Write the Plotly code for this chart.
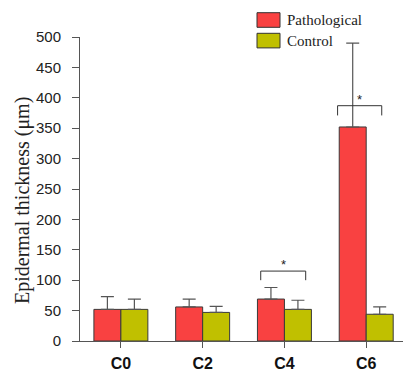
import plotly.graph_objects as go

categories = ["C0", "C2", "C4", "C6"]
pathological = [52, 56, 69, 352]
pathological_err = [21, 13, 19, 138]
control = [52, 47, 52, 44]
control_err = [17, 10, 15, 12]
y_ticks = [0, 50, 100, 150, 200, 250, 300, 350, 400, 450, 500]

# significance brackets: (category index, left offset, right offset, top value, leg bottom value)
sig_brackets = [(2, -0.29, 0.26, 115, 100), (3, -0.35, 0.19, 387, 371)]

RED = "#F94141"
OLIVE = "#C0C000"
xpos = list(range(len(categories)))

fig = go.Figure()
fig.add_trace(go.Bar(
    x=xpos, y=pathological, name="Pathological",
    marker=dict(color=RED, line=dict(color="#3a3a3a", width=1)),
    error_y=dict(type="data", array=pathological_err, arrayminus=[0]*4, symmetric=False,
                 color="#555555", thickness=1.2, width=6.5),
    showlegend=False,
))
fig.add_trace(go.Bar(
    x=xpos, y=control, name="Control",
    marker=dict(color=OLIVE, line=dict(color="#3a3a3a", width=1)),
    error_y=dict(type="data", array=control_err, arrayminus=[0]*4, symmetric=False,
                 color="#555555", thickness=1.2, width=6.5),
    showlegend=False,
))

shapes = []
annotations = []
for ci, lo, hi, top, bot in sig_brackets:
    x0, x1 = ci + lo, ci + hi
    shapes.append(dict(type="path", xref="x", yref="y",
                       path=f"M {x0},{bot} L {x0},{top} L {x1},{top} L {x1},{bot}",
                       line=dict(color="#333333", width=1)))
    annotations.append(dict(x=(x0 + x1) / 2, y=top, xref="x", yref="y", text="*",
                            showarrow=False, yanchor="bottom", yshift=-3,
                            font=dict(family="Liberation Sans, Arial", size=13, color="#222")))

PW, PH, ML, MT = 323, 304, 80, 37


def px_x(px):
    return (px - ML) / PW


def px_y(py):
    return 1 - (py - MT) / PH


# legend drawn manually (larger swatches as in the reference)
legend_items = [("Pathological", RED), ("Control", OLIVE)]
for i, (name, col) in enumerate(legend_items):
    top_px = 12.7 + i * 20.6
    shapes.append(dict(type="rect", xref="paper", yref="paper",
                       x0=px_x(257), x1=px_x(280),
                       y0=px_y(top_px + 14.6), y1=px_y(top_px),
                       fillcolor=col, line=dict(color="#333333", width=1)))
    annotations.append(dict(x=px_x(285), y=px_y(top_px + 7.3),
                            xref="paper", yref="paper", text=name, showarrow=False,
                            xanchor="left", yanchor="middle",
                            font=dict(family="Liberation Serif, Times New Roman", size=15, color="#222")))

annotations.append(dict(x=px_x(22), y=px_y(201), xref="paper", yref="paper",
                        text="Epidermal thickness (μm)", showarrow=False, textangle=-90,
                        xanchor="center", yanchor="middle",
                        font=dict(family="Liberation Serif, Times New Roman", size=20, color="#222")))

fig.update_layout(
    width=403, height=372,
    margin=dict(l=ML, r=0, t=MT, b=31, autoexpand=False),
    paper_bgcolor="white", plot_bgcolor="white",
    barmode="group", bargap=0.34, bargroupgap=0,
    shapes=shapes, annotations=annotations,
    xaxis=dict(range=[-0.5, 3.45], tickmode="array", tickvals=xpos, ticktext=categories,
               showline=True, linecolor="#555555", linewidth=1, ticks="outside",
               ticklen=6, tickcolor="#555555", showgrid=False, zeroline=False,
               tickfont=dict(family="Liberation Sans, Arial", size=16, color="#111", weight="bold"),
               ticklabelstandoff=2, automargin=False),
    yaxis=dict(range=[0, 500], tickmode="array", tickvals=y_ticks,
               showline=True, linecolor="#555555", linewidth=1, ticks="outside",
               ticklen=7, tickcolor="#555555", showgrid=False, zeroline=False,
               tickfont=dict(family="Liberation Sans, Arial", size=15, color="#222"),
               ticklabelstandoff=8, automargin=False),
)

fig.write_html("out.html")
